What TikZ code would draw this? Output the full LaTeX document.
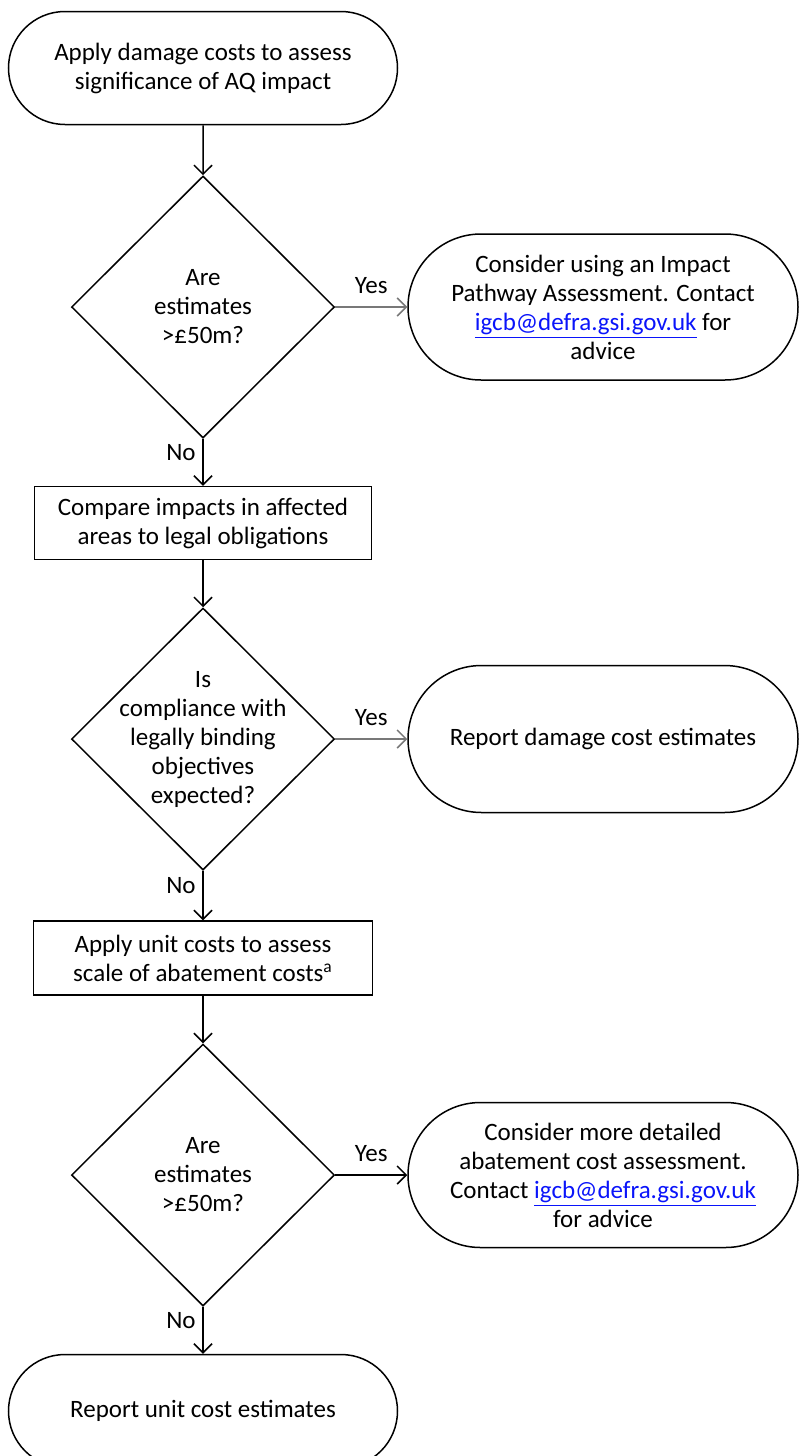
\documentclass[tikz,border=0pt]{standalone}
\usepackage{fontspec}
\setmainfont{Carlito}
\usetikzlibrary{shapes.geometric,shapes.misc,arrows.meta}

\definecolor{linkblue}{RGB}{10,20,250}
\definecolor{yesgray}{RGB}{120,120,120}
\newcommand{\igcbmail}{\textcolor{linkblue}{\underline{igcb@defra.gsi.gov.uk}}}

\tikzset{
  terminal/.style={draw, rounded rectangle, align=center, inner sep=0pt},
  process/.style={draw, rectangle, align=center, inner sep=0pt},
  decision/.style={draw, diamond, align=center, inner sep=-16pt,
    minimum width=131.5pt, minimum height=131pt},
  flow/.style={-{Straight Barb[length=4.5pt,width=9pt]}},
}

\begin{document}
\begin{tikzpicture}[x=0.5pt, y=-0.5pt, line width=0.75pt,
    font=\fontsize{12.5}{14.5}\selectfont]
    \useasboundingbox (0,0) rectangle (799,1456);
    % left column
    \node[terminal, minimum width=194.5pt, minimum height=56.5pt] (start) at (203,68)
      {Apply damage costs to assess\\significance of AQ impact};
    \node[decision] (dec1) at (203,307) {Are\\estimates\\>£50m?};
    \node[process, minimum width=168.5pt, minimum height=36.5pt] (cmp) at (203,523)
      {Compare impacts in affected\\areas to legal obligations};
    \node[decision, minimum height=131pt] (dec2) at (203,739)
      {Is\\compliance with\\legally binding\\objectives\\expected?};
    \node[process, minimum width=169.5pt, minimum height=37pt] (unit) at (203,958)
      {Apply unit costs to assess\\scale of abatement costs\textsuperscript{a}};
    \node[decision] (dec3) at (203,1175) {Are\\estimates\\>£50m?};
    \node[terminal, minimum width=194.5pt, minimum height=56.5pt] (final) at (203,1411)
      {Report unit cost estimates};
    % right column
    \node[terminal, minimum width=195pt, minimum height=73pt] (ipa) at (603,307)
      {Consider using an Impact\\Pathway Assessment. Contact\\\igcbmail{} for\\advice};
    \node[terminal, minimum width=195pt, minimum height=73.5pt] (rep) at (603,739)
      {Report damage cost estimates};
    \node[terminal, minimum width=195pt, minimum height=72.5pt] (abate) at (603,1175)
      {Consider more detailed\\abatement cost assessment.\\Contact \igcbmail\\for advice};

    \draw[flow] (start) -- (dec1);
    \draw[flow, yesgray] (dec1) -- node[above=3pt, black]{Yes} (ipa);
    \draw[flow] (dec1) -- node[left, pos=0.3]{No} (cmp);
    \draw[flow] (cmp) -- (dec2);
    \draw[flow, yesgray] (dec2) -- node[above=3pt, black]{Yes} (rep);
    \draw[flow] (dec2) -- node[left, pos=0.3]{No} (unit);
    \draw[flow] (unit) -- (dec3);
    \draw[flow] (dec3) -- node[above=3pt]{Yes} (abate);
    \draw[flow] (dec3) -- node[left, pos=0.3]{No} (final);
\end{tikzpicture}
\end{document}
